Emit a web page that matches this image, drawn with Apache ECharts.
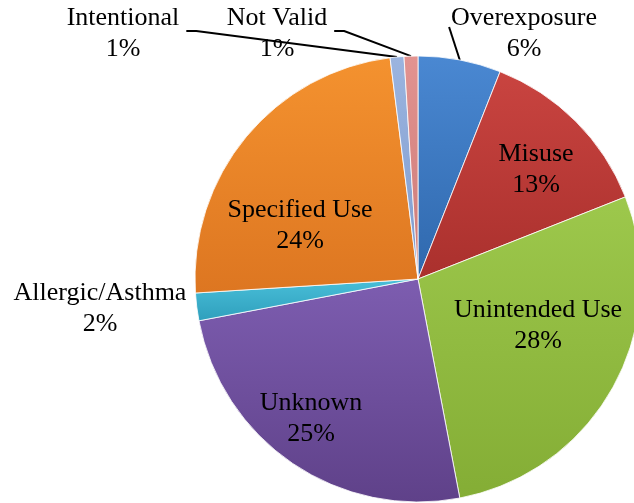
<!DOCTYPE html>
<html>
<head>
<meta charset="utf-8">
<script src="https://cdn.jsdelivr.net/npm/echarts@6/dist/echarts.min.js"></script>
<style>
  html, body { margin: 0; padding: 0; background: #fff; }
  #chart { width: 634px; height: 503px; }
</style>
</head>
<body>
<div id="chart"></div>
<script>
// slices, clockwise from 12 o'clock
const categories = ['Overexposure', 'Misuse', 'Unintended Use', 'Unknown', 'Allergic/Asthma', 'Specified Use', 'Intentional', 'Not Valid']
const shares = [6, 13, 28, 25, 2, 24, 1, 1]

const sliceColors = [
  ['#4a88d2', '#2f68ad'],
  ['#c94440', '#aa302d'],
  ['#9dc84c', '#84ad35'],
  ['#7d5db0', '#5f4189'],
  ['#49bfd9', '#2f9fbc'],
  ['#f4922f', '#dd7621'],
  ['#9bb4df', '#7f9cce'],
  ['#e29390', '#cc7b78']
]

// label block centres, and which ones get a leader line
const labelSpots = [
  [524, 34], [536, 170], [538, 326], [311, 419],
  [100, 309], [300, 226], [123, 34], [277, 34]
]
const leaderSide = { 0: 'right', 6: 'left', 7: 'left' }

const serif = 'Liberation Serif'

const chart = echarts.init(document.getElementById('chart'))

const option = {
  animation: false,
  textStyle: { fontFamily: serif },
  series: [
    {
      type: 'pie',
      center: [418, 279],
      radius: 223,
      startAngle: 90,
      clockwise: true,
      avoidLabelOverlap: false,
      data: categories.map((name, i) => ({
        name: name,
        value: shares[i],
        itemStyle: {
          color: new echarts.graphic.LinearGradient(0, 0, 0, 1, [
            { offset: 0, color: sliceColors[i][0] },
            { offset: 1, color: sliceColors[i][1] }
          ])
        },
        labelLine: { show: leaderSide[i] !== undefined }
      })),
      itemStyle: {
        borderColor: 'rgba(255,255,255,0.8)',
        borderWidth: 1
      },
      label: {
        show: true,
        position: 'outside',
        formatter: p => '{t|' + p.name + '}\n{t|' + p.value + '%}',
        rich: {
          t: {
            fontFamily: serif,
            fontSize: 26,
            lineHeight: 31,
            color: '#000',
            align: 'center'
          }
        },
        fontFamily: serif,
        fontSize: 26,
        lineHeight: 31,
        color: '#000',
        align: 'center'
      },
      labelLine: {
        lineStyle: { color: '#000', width: 2 },
        length: 10,
        length2: 10
      },
      labelLayout: function (p) {
        const spot = labelSpots[p.dataIndex]
        const w = p.labelRect.width
        const out = { x: spot[0], y: spot[1], align: 'center', verticalAlign: 'middle' }
        const side = leaderSide[p.dataIndex]
        if (side && p.labelLinePoints) {
          const start = p.labelLinePoints[0]
          if (side === 'left') {
            const right = spot[0] + w / 2
            out.labelLinePoints = [start, [right + 17, spot[1] - 3], [right + 7, spot[1] - 3]]
          } else {
            const left = spot[0] - w / 2
            out.labelLinePoints = [start, [left - 2, spot[1] - 7], [left - 2, spot[1] - 7]]
          }
        }
        return out
      }
    }
  ]
}

chart.setOption(option)
</script>
</body>
</html>
